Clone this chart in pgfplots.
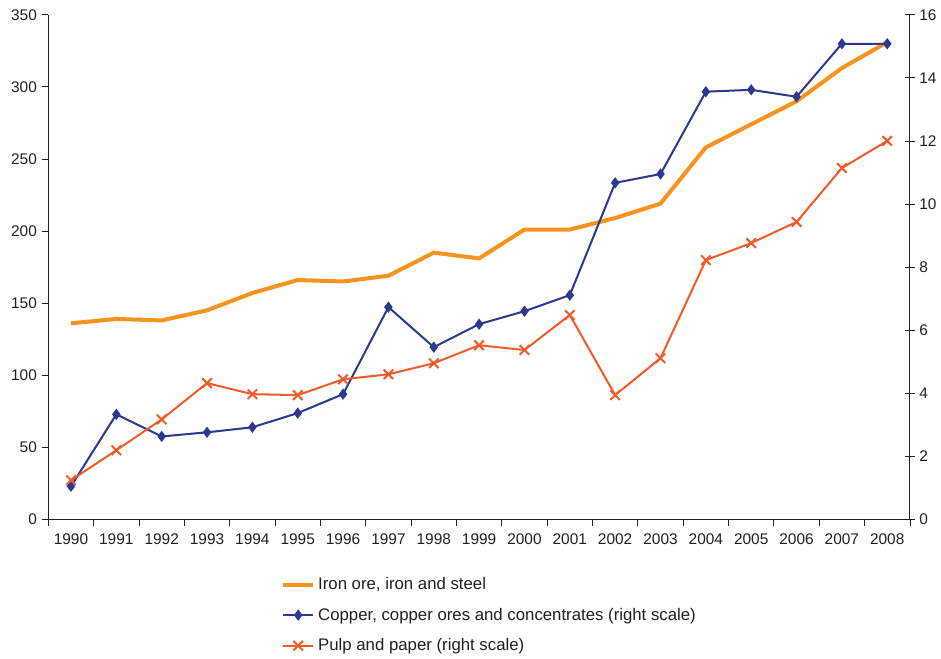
\documentclass[border=0pt]{standalone}
\usepackage{pgfplots}
\pgfplotsset{compat=1.18}
\usepackage{fontspec}
\setmainfont{Liberation Sans}
\definecolor{ironc}{HTML}{F7941D}
\definecolor{copperc}{HTML}{2B3990}
\definecolor{pulpc}{HTML}{F15A29}
\definecolor{txt}{HTML}{231F20}

% values; x = year index (0 = 1990)
\pgfplotstableread{
x iron
0 136
1 139
2 138
3 145
4 157
5 166
6 165
7 169
8 185
9 181
10 201
11 201
12 209
13 219
14 258
15 274
16 290
17 313
18 331
}\irontab
\pgfplotstableread{
x copper pulp
0 1.05 1.24
1 3.33 2.19
2 2.63 3.17
3 2.76 4.32
4 2.92 3.97
5 3.37 3.94
6 3.97 4.44
7 6.73 4.60
8 5.46 4.95
9 6.19 5.52
10 6.60 5.37
11 7.11 6.48
12 10.67 3.94
13 10.95 5.11
14 13.56 8.22
15 13.62 8.76
16 13.40 9.43
17 15.08 11.14
18 15.08 12.00
}\righttab

\begin{document}
\begin{tikzpicture}
\pgfplotsset{
  every axis/.append style={
    scale only axis, width=642pt, height=376pt,
    xmin=-0.5, xmax=18.5,
    font=\fontsize{11.5}{13}\selectfont, text=txt,
    axis line style={txt, line width=0.8pt},
    every tick/.style={txt, line width=0.6pt},
    /pgf/number format/assume math mode=true,
    /pgf/number format/1000 sep={},
  },
}
\begin{axis}[name=main,
    axis x line*=bottom, axis y line*=left,
    ymin=0, ymax=350, ytick={0,50,...,350},
    xtick={0,...,18},
    xticklabels={1990,1991,1992,1993,1994,1995,1996,1997,1998,1999,2000,2001,2002,2003,2004,2005,2006,2007,2008},
    major x tick style={draw=none},
    minor xtick={-0.5,0.5,...,18.5},
    tick align=outside, major tick length=5pt, minor tick length=5pt,
    xticklabel style={yshift=-2pt},
  ]
\addplot[ironc, line width=3pt, no marks] table[x=x, y=iron] {\irontab};
\end{axis}
\begin{axis}[
    axis x line=none, axis y line*=right,
    ymin=0, ymax=16, ytick={0,2,...,16},
    tick align=center, major tick length=7pt,
    legend style={at={(0.265,-0.104)}, anchor=north west, draw=none,
      font=\fontsize{12.5}{14}\selectfont, row sep=8.2pt,
      /tikz/every even column/.append style={column sep=4pt}},
    legend cell align=left,
    legend image code/.code={\draw[#1] (0cm,0cm) -- (0.8cm,0cm); \path[#1,mark repeat=2,mark phase=2] plot coordinates {(0cm,0cm) (0.4cm,0cm) (0.8cm,0cm)};},
  ]
\addlegendimage{ironc, line width=3pt, no marks}
\addlegendentry{Iron ore, iron and steel}
\addplot[copperc, line width=1.5pt, mark=diamond*, mark size=3pt, mark options={fill=copperc}] table[x=x, y=copper] {\righttab};
\addlegendentry{Copper, copper ores and concentrates (right scale)}
\addplot[pulpc, line width=1.5pt, mark=x, mark size=5pt, mark options={line width=1.5pt}] table[x=x, y=pulp] {\righttab};
\addlegendentry{Pulp and paper (right scale)}
\end{axis}
% a little white margin above and to the left, as in the reference
\path (main.north west) ++(-36pt,11pt) coordinate (tl);
\path (tl) -- (main.north west);
\end{tikzpicture}
\end{document}
